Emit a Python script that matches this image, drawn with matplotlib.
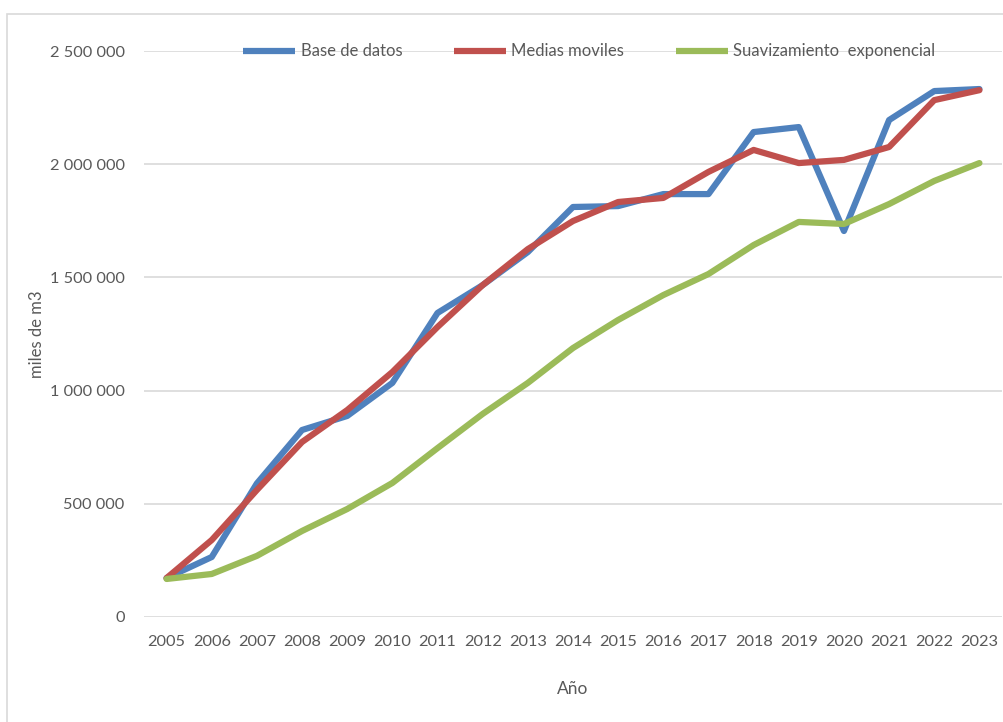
import matplotlib.pyplot as plt
from matplotlib.patches import Rectangle
from matplotlib.ticker import FuncFormatter

# Series (miles de m3)
years = list(range(2005, 2024))
base_datos = [172000, 265000, 590000, 826000, 888000, 1034000, 1343000, 1466000, 1612000,
              1811000, 1815000, 1868000, 1868000, 2142000, 2164000, 1705000, 2195000,
              2323000, 2332000]
medias_moviles = [172000, 340000, 561000, 773000, 914000, 1082000, 1281000, 1466000, 1625000,
                  1749000, 1833000, 1851000, 1966000, 2063000, 2005000, 2019000, 2076000,
                  2283000, 2327000]
suavizamiento = [168000, 190000, 270000, 380000, 477000, 592000, 746000, 897000, 1034000,
                 1188000, 1312000, 1422000, 1515000, 1643000, 1745000, 1736000, 1824000,
                 1926000, 2005000]

plt.rcParams['font.family'] = ['Lato', 'DejaVu Sans']
txt = '#595959'

fig = plt.figure(figsize=(10.04, 7.22), dpi=100)
# chart border
fig.patches.append(Rectangle((7 / 1004, -0.1), 1.2, (722 - 14) / 722 + 0.1,
                             transform=fig.transFigure, fill=False,
                             edgecolor='#D9D9D9', lw=1.2))

ax = fig.add_axes([144 / 1004, (722 - 617) / 722, 858 / 1004, 566 / 722])

x = list(range(len(years)))
ax.plot(x, base_datos, color='#4F81BD', lw=4.5, label='Base de datos', solid_capstyle='round')
ax.plot(x, medias_moviles, color='#C0504D', lw=4.5, label='Medias moviles', solid_capstyle='round')
ax.plot(x, suavizamiento, color='#9BBB59', lw=4.5, label='Suavizamiento  exponencial', solid_capstyle='round')

ax.set_xlim(-0.5, len(years) - 0.5)
ax.set_ylim(0, 2500000)
ax.set_yticks(range(0, 2500001, 500000))
ax.yaxis.set_major_formatter(FuncFormatter(lambda v, p: f'{int(v):,}'.replace(',', ' ')))
ax.set_xticks(x)
ax.set_xticklabels([str(y) for y in years])
ax.grid(axis='y', color='#D9D9D9', lw=1.2)
ax.set_axisbelow(True)
for s in ax.spines.values():
    s.set_visible(False)
ax.tick_params(length=0, colors=txt, labelsize=11.8)
ax.tick_params(axis='x', pad=13)
ax.tick_params(axis='y', pad=14)

ax.set_ylabel('miles de m3', color=txt, fontsize=12, labelpad=3)
ax.set_xlabel('Año', color=txt, fontsize=12.5, labelpad=23)

leg = ax.legend(loc='upper center', bbox_to_anchor=(0.519, 1.04), ncol=3, frameon=False,
                fontsize=12, handlelength=3.1, columnspacing=3.1, handletextpad=0.35)
for t in leg.get_texts():
    t.set_color(txt)
for ln in leg.get_lines():
    ln.set_solid_capstyle('butt')

fig.savefig('out.png', dpi=100)
